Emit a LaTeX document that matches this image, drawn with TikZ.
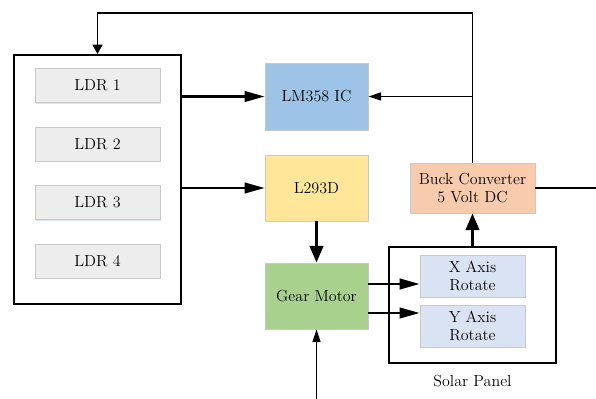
\documentclass[tikz,border=0pt]{standalone}
\usetikzlibrary{arrows.meta,shadows}
\definecolor{ldrfill}{HTML}{EDEDED}
\definecolor{lmfill}{HTML}{9DC3E6}
\definecolor{lfill}{HTML}{FFE699}
\definecolor{buckfill}{HTML}{F8CBAD}
\definecolor{gearfill}{HTML}{A9D18E}
\definecolor{axisfill}{HTML}{DAE3F3}
\definecolor{edgegray}{HTML}{C9C9C9}
\definecolor{shadowblue}{HTML}{BDD7EE}
\tikzset{
  txt/.style={font=\fontsize{12}{13.5}\selectfont},
  blk/.style={txt, draw=edgegray, line width=0.6pt, inner sep=1pt, align=center,
    drop shadow={shadow xshift=0.8pt, shadow yshift=-0.8pt, fill=shadowblue, opacity=0.6}},
  frame/.style={draw=black, line width=1.5pt, fill=white},
  thin/.style={draw=black, line width=1pt},
  thick/.style={draw=black, line width=1.6pt},
  thicker/.style={draw=black, line width=2.3pt},
  bigtip/.style={-{Triangle[length=15pt,width=8pt]}},
  vtip/.style={-{Triangle[length=12.5pt,width=10pt]}},
  smalltip/.style={-{Triangle[length=9.5pt,width=6pt]}},
  toptip/.style={-{Triangle[length=7pt,width=7.5pt]}},
}
\begin{document}
\begin{tikzpicture}[x=0.75pt,y=-0.75pt]
\useasboundingbox (0,0) rectangle (596,399);
% frames
\node[frame, minimum width=125.25pt, minimum height=186.75pt] (ldrbox) at (97.5,179.5) {};
\node[frame, minimum width=125.25pt, minimum height=87pt] (solar) at (472.5,305) {};
% LDRs
\node[blk, fill=ldrfill, minimum width=93.75pt, minimum height=25.5pt] (ldr1) at (97.5,85.5) {LDR 1};
\node[blk, fill=ldrfill, minimum width=93.75pt, minimum height=25.5pt] (ldr2) at (97.5,144) {LDR 2};
\node[blk, fill=ldrfill, minimum width=93.75pt, minimum height=25.5pt] (ldr3) at (97.5,202.5) {LDR 3};
\node[blk, fill=ldrfill, minimum width=93.75pt, minimum height=25.5pt] (ldr4) at (97.5,261) {LDR 4};
% main blocks
\node[blk, fill=lmfill, minimum width=77.25pt, minimum height=50.25pt] (lm) at (316.5,96.5) {LM358 IC};
\node[blk, fill=lfill, minimum width=77.25pt, minimum height=49.5pt] (l293) at (316.5,188) {L293D};
\node[blk, fill=gearfill, minimum width=77.25pt, minimum height=49.5pt] (gear) at (316.5,296) {Gear Motor};
\node[blk, fill=buckfill, minimum width=93.75pt, minimum height=37.5pt] (buck) at (472.5,188) {Buck Converter\\5 Volt DC};
\node[blk, fill=axisfill, minimum width=78.75pt, minimum height=31.5pt] (xa) at (472.5,276) {X Axis\\Rotate};
\node[blk, fill=axisfill, minimum width=78.75pt, minimum height=31.5pt] (ya) at (472.5,326) {Y Axis\\Rotate};
\node[txt] (sol) at (472.5,381) {Solar Panel};
% free ends
\coordinate (rightend) at (596,188);
\coordinate (botend) at (316.5,399);
% connectors
\draw[thin, toptip] (buck.north) -- (472.5,13) -- (97.5,13) -- (ldrbox.north);
\draw[thin, smalltip] (buck.north |- lm.east) -- (lm.east);
\draw[thick, bigtip] (ldrbox.east |- lm.west) -- (lm.west);
\draw[thick, bigtip] (ldrbox.east |- l293.west) -- (l293.west);
\draw[thicker, vtip] (l293.south) -- (gear.north);
\draw[thin, smalltip] (botend) -- (gear.south);
\draw[thick, bigtip] (gear.east |- 0,284) -- (xa.west |- 0,284);
\draw[thick, bigtip] (gear.east |- 0,313) -- (ya.west |- 0,313);
\draw[thicker, vtip] (solar.north) -- (buck.south);
\draw[thin] (buck.east) -- (rightend);
\end{tikzpicture}
\end{document}
